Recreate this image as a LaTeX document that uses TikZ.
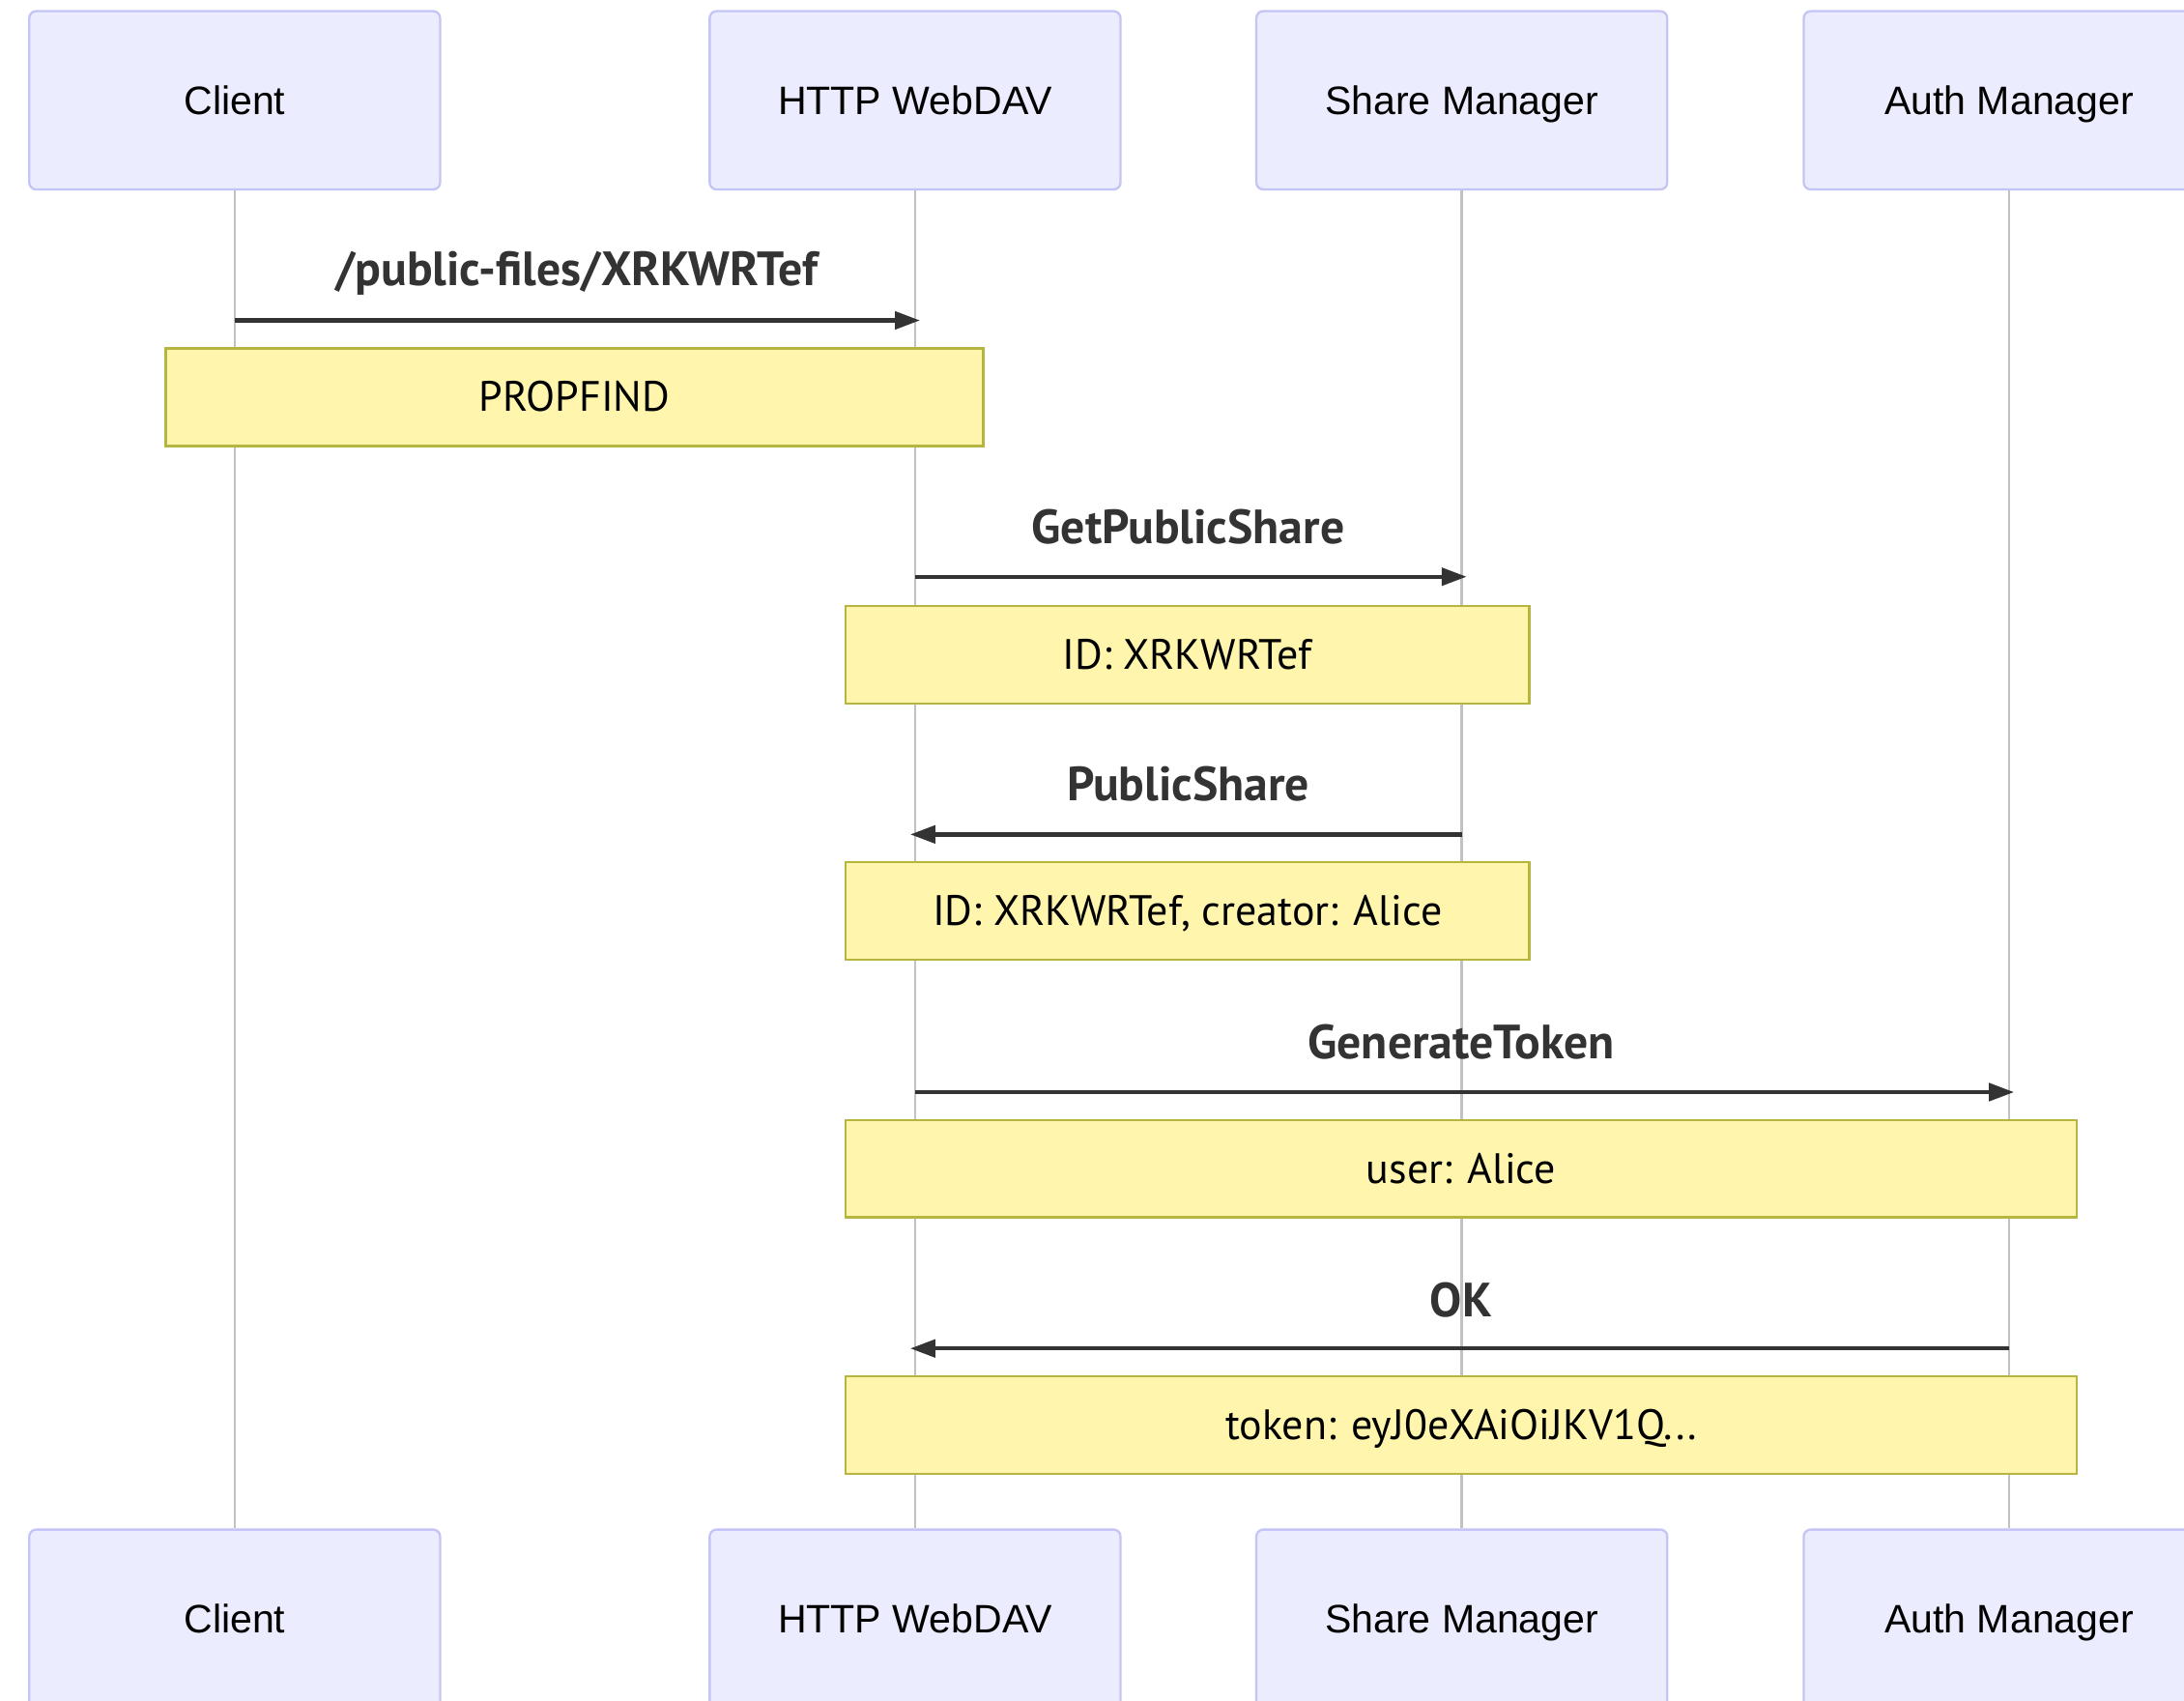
\documentclass[tikz,border=0pt]{standalone}
\usepackage{fontspec}
\setmainfont{Liberation Sans}
\newfontfamily\msgfont{PT Sans}
\usetikzlibrary{arrows.meta}
\definecolor{actorfill}{HTML}{ECECFF}
\definecolor{actorline}{HTML}{C4C4F6}
\definecolor{notefill}{HTML}{FFF5AD}
\definecolor{noteline}{HTML}{B5B540}
\definecolor{msgcol}{HTML}{333333}
\definecolor{lifecol}{HTML}{C2C2C2}
\begin{document}
\begin{tikzpicture}[x=1pt,y=-1pt,
 actor/.style={draw=actorline, fill=actorfill, line width=1.6pt, rounded corners=5pt, minimum width=295pt, minimum height=128pt, inner sep=0pt, text height=20.4pt, text depth=0pt, font=\fontsize{28.5}{34}\selectfont},
 note/.style={draw=noteline, fill=notefill, line width=1.8pt, minimum height=70pt, inner sep=0pt, text height=21pt, text depth=0pt, font=\msgfont\fontsize{30.5}{36}\selectfont},
 msg/.style={draw=msgcol, line width=3pt, shorten >=-3.5pt, -{Triangle[length=18pt,width=12.5pt]}},
 lbl/.style={text=msgcol, font=\msgfont\bfseries\fontsize{34.5}{40}\selectfont, inner sep=0pt, text height=24pt, text depth=0pt},
 life/.style={draw=lifecol, line width=1.7pt}]
\useasboundingbox (0,0) rectangle (1568,1221);
\clip (0,0) rectangle (1568,1221);
\fill[white] (0,0) rectangle (1568,1221);
% actors top
\node[actor] (ca) at (168.5,72) {Client};
\node[actor] (hw) at (657,72) {HTTP WebDAV};
\node[actor] (sm) at (1049.5,72) {Share Manager};
\node[actor] (am) at (1442.5,72) {Auth Manager};
% actors bottom
\node[actor] (cab) at (168.5,1162) {Client};
\node[actor] (hwb) at (657,1162) {HTTP WebDAV};
\node[actor] (smb) at (1049.5,1162) {Share Manager};
\node[actor] (amb) at (1442.5,1162) {Auth Manager};
% lifelines
\draw[life] (ca.south) -- (cab.north);
\draw[life] (hw.south) -- (hwb.north);
\draw[life] (sm.south) -- (smb.north);
\draw[life] (am.south) -- (amb.north);
% rows
\coordinate (r1) at (0,230);
\coordinate (r2) at (0,414);
\coordinate (r3) at (0,599);
\coordinate (r4) at (0,784);
\coordinate (r5) at (0,968);
% messages
\draw[msg] (ca |- r1) -- (hw |- r1);
\node[lbl] (l1) at (414,193) {/public-files/XRKWRTef};
\node[note, minimum width=587pt] (n1) at (412.5,285) {PROPFIND};
\draw[msg] (hw |- r2) -- (sm |- r2);
\node[lbl] (l2) at (853,378) {GetPublicShare};
\node[note, minimum width=491pt] (n2) at (852.5,470) {ID: XRKWRTef};
\draw[msg] (sm |- r3) -- (hw |- r3);
\node[lbl] (l3) at (853,563) {PublicShare};
\node[note, minimum width=491pt] (n3) at (852.5,654) {ID: XRKWRTef, creator: Alice};
\draw[msg] (hw |- r4) -- (am |- r4);
\node[lbl] (l4) at (1049,748) {GenerateToken};
\node[note, minimum width=884pt] (n4) at (1049,839) {user: Alice};
\draw[msg] (am |- r5) -- (hw |- r5);
\node[lbl] (l5) at (1049,933) {OK};
\node[note, minimum width=884pt] (n5) at (1049,1023) {token: eyJ0eXAiOiJKV1Q...};
\end{tikzpicture}
\end{document}
